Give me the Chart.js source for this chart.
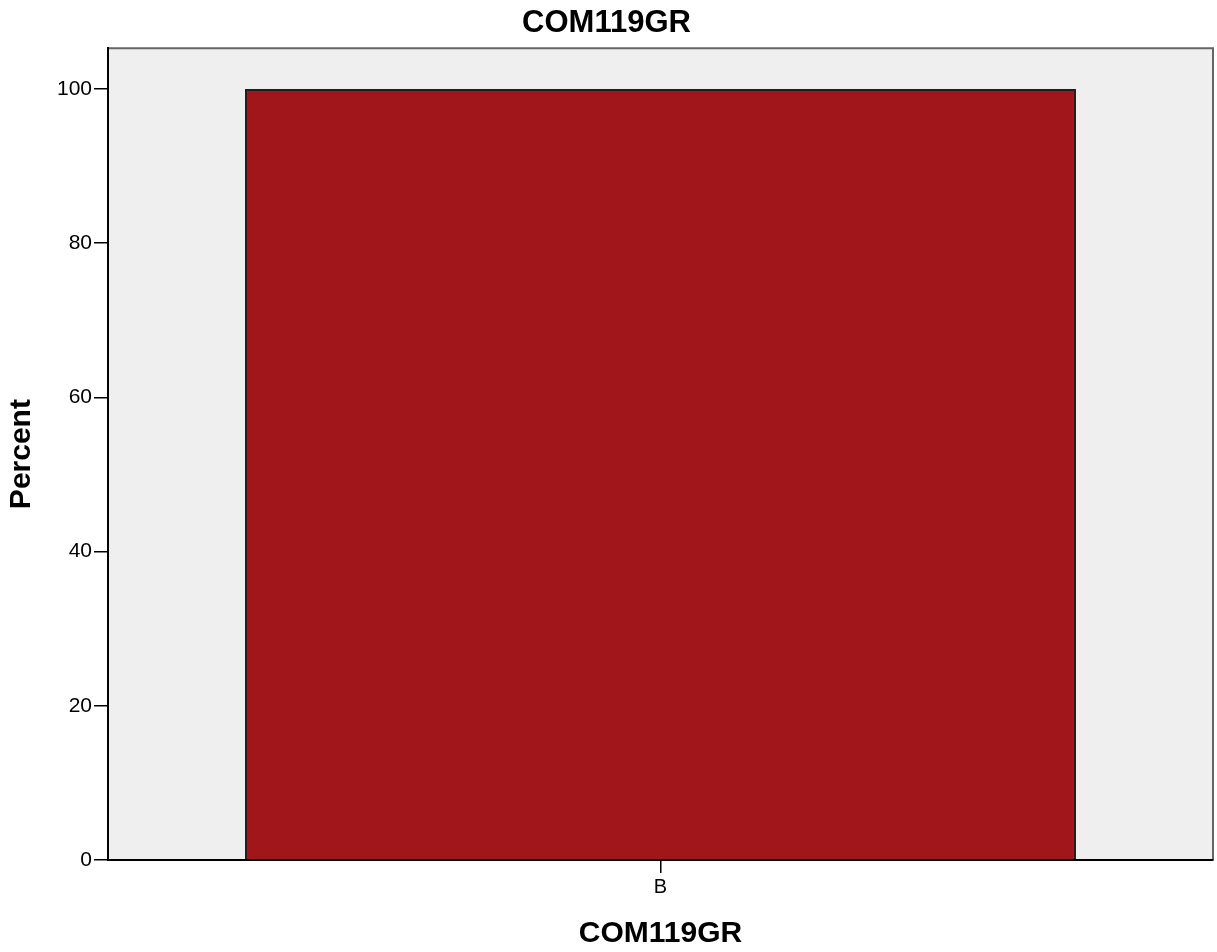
<!DOCTYPE html>
<html>
<head>
<meta charset="utf-8">
<script src="https://cdn.jsdelivr.net/npm/chart.js@4/dist/chart.umd.min.js"></script>
<style>
  html, body { margin: 0; padding: 0; background: #fff; }
  #wrap { width: 1217px; height: 952px; }
</style>
</head>
<body>
<div id="wrap"><canvas id="chart" width="1217" height="952"></canvas></div>
<script>
// ─── Data ──────────────────────────────────────────────────────────────────────
const categories = ['B'];
const percentValues = [100];
const yTickValues = [0, 20, 40, 60, 80, 100];
const chartTitle = 'COM119GR';
const xTitle = 'COM119GR';
const yTitle = 'Percent';

const FONT = "'Liberation Sans', Arial, sans-serif";

// plot background + frame (SPSS style grey panel)
const panelPlugin = {
  id: 'panel',
  beforeDraw(chart) {
    const { ctx, chartArea: a } = chart;
    ctx.save();
    ctx.fillStyle = '#efefef';
    ctx.fillRect(a.left, a.top, a.right - a.left, a.bottom - a.top);
    ctx.strokeStyle = '#666';
    ctx.lineWidth = 2;
    ctx.beginPath();
    ctx.moveTo(a.left, a.top);
    ctx.lineTo(a.right, a.top);
    ctx.lineTo(a.right, a.bottom);
    ctx.stroke();
    ctx.restore();
  }
};

new Chart(document.getElementById('chart'), {
  type: 'bar',
  data: {
    labels: categories,
    datasets: [{
      data: percentValues,
      backgroundColor: '#a1161a',
      borderColor: '#1e1e1e',
      borderWidth: 2,
      categoryPercentage: 1,
      barPercentage: 0.752
    }]
  },
  options: {
    responsive: false,
    animation: false,
    layout: { padding: { left: 0, right: 4, top: 0, bottom: 0 } },
    plugins: {
      legend: { display: false },
      tooltip: { enabled: false },
      title: {
        display: true,
        text: chartTitle,
        color: '#000',
        font: { family: FONT, size: 31, weight: 'bold', lineHeight: 1.2 },
        padding: { top: 5, bottom: 6 }
      }
    },
    scales: {
      x: {
        afterFit: s => { s.height = 92; },
        grid: { display: true, offset: false, drawOnChartArea: false, drawTicks: true, tickLength: 13, color: '#000', lineWidth: 1.5 },
        border: { display: true, color: '#000', width: 2 },
        ticks: { color: '#000', padding: 2, font: { family: FONT, size: 20 } },
        title: {
          display: true,
          text: xTitle,
          color: '#000',
          font: { family: FONT, size: 30, weight: 'bold', lineHeight: 1.2 },
          padding: { top: 0, bottom: 0 }
        }
      },
      y: {
        min: 0,
        max: 105.3,
        afterFit: s => { s.width = 108; },
        afterBuildTicks: s => { s.ticks = yTickValues.map(v => ({ value: v })); },
        grid: { display: true, drawOnChartArea: false, drawTicks: true, tickLength: 14, color: '#000', lineWidth: 1.5 },
        border: { display: true, color: '#000', width: 2 },
        ticks: { color: '#000', padding: 2, font: { family: FONT, size: 21 } },
        title: {
          display: true,
          text: yTitle,
          color: '#000',
          font: { family: FONT, size: 30, weight: 'bold', lineHeight: 1.2 },
          padding: { top: 4, bottom: 0 }
        }
      }
    }
  },
  plugins: [panelPlugin]
});
</script>
</body>
</html>
